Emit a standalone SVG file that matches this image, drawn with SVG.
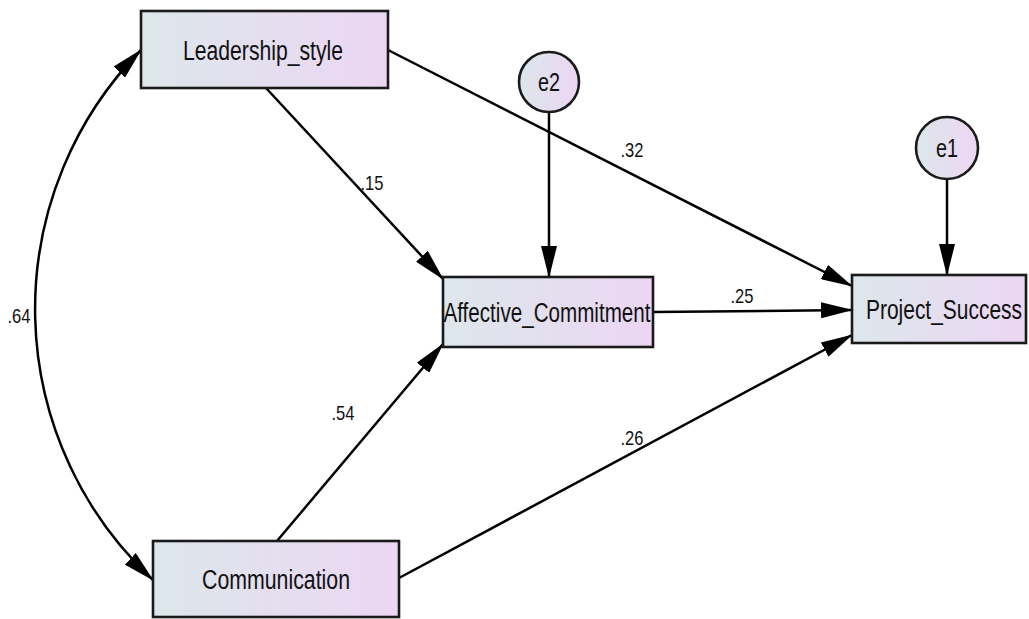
<svg xmlns="http://www.w3.org/2000/svg" width="1029" height="619" viewBox="0 0 1029 619">
  <defs>
    <linearGradient id="fill" x1="0" y1="0" x2="1" y2="0">
      <stop offset="0" stop-color="#dde7eb"/>
      <stop offset="1" stop-color="#ecd6f3"/>
    </linearGradient>
    <marker id="head" viewBox="0 0 32 16" markerUnits="userSpaceOnUse" markerWidth="32" markerHeight="16" refX="31" refY="8" orient="auto-start-reverse">
      <path d="M0,0 L32,8 L0,16 z" fill="#000"/>
    </marker>
    <style>
      .box { fill: url(#fill); stroke: #1a1a1a; stroke-width: 2.6; }
      .lbl { font-family: "Liberation Sans", Arial, sans-serif; font-size: 27px; fill: #111; text-anchor: middle; }
      .err { font-family: "Liberation Sans", Arial, sans-serif; font-size: 26px; fill: #111; text-anchor: middle; }
      .coef { font-family: "Liberation Sans", Arial, sans-serif; font-size: 21px; fill: #111; text-anchor: middle; }
      .edge { fill: none; stroke: #000; stroke-width: 2.5; marker-end: url(#head); }
    </style>
  </defs>
  <rect width="1029" height="619" fill="#fff"/>

  <!-- paths and the covariance arc -->
  <g id="connectors">
    <path class="edge" d="M141,50 A370,370 0 0,0 153,580" marker-start="url(#head)"/>
    <line class="edge" x1="266" y1="88" x2="443" y2="279"/>
    <line class="edge" x1="277" y1="541" x2="443" y2="344"/>
    <line class="edge" x1="388" y1="50" x2="852" y2="286"/>
    <line class="edge" x1="653" y1="312" x2="852" y2="310"/>
    <line class="edge" x1="399" y1="578" x2="852" y2="335"/>
    <line class="edge" x1="549" y1="112" x2="549" y2="277"/>
    <line class="edge" x1="947" y1="179" x2="947" y2="275"/>
  </g>

  <g id="coefficients">
    <text class="coef" x="19" y="323" textLength="23" lengthAdjust="spacingAndGlyphs">.64</text>
    <text class="coef" x="372" y="190" textLength="23" lengthAdjust="spacingAndGlyphs">.15</text>
    <text class="coef" x="632" y="157" textLength="23" lengthAdjust="spacingAndGlyphs">.32</text>
    <text class="coef" x="742" y="303" textLength="23" lengthAdjust="spacingAndGlyphs">.25</text>
    <text class="coef" x="343" y="420" textLength="23" lengthAdjust="spacingAndGlyphs">.54</text>
    <text class="coef" x="632" y="445" textLength="23" lengthAdjust="spacingAndGlyphs">.26</text>
  </g>

  <g id="leadership_style">
    <rect class="box" x="141" y="11" width="247" height="77"/>
    <text class="lbl" x="263" y="60" textLength="160" lengthAdjust="spacingAndGlyphs">Leadership_style</text>
  </g>

  <g id="communication">
    <rect class="box" x="153" y="541" width="246" height="76"/>
    <text class="lbl" x="276" y="589" textLength="148" lengthAdjust="spacingAndGlyphs">Communication</text>
  </g>

  <g id="affective_commitment">
    <rect class="box" x="443" y="277" width="210" height="70"/>
    <text class="lbl" x="547" y="322" textLength="207" lengthAdjust="spacingAndGlyphs">Affective_Commitment</text>
  </g>

  <g id="project_success">
    <rect class="box" x="852" y="275" width="174" height="68"/>
    <text class="lbl" x="944" y="319" textLength="156" lengthAdjust="spacingAndGlyphs">Project_Success</text>
  </g>

  <g id="e2">
    <circle class="box" cx="549" cy="82" r="30"/>
    <text class="err" x="549" y="91" textLength="22" lengthAdjust="spacingAndGlyphs">e2</text>
  </g>

  <g id="e1">
    <circle class="box" cx="947" cy="148" r="31"/>
    <text class="err" x="947" y="157" textLength="22" lengthAdjust="spacingAndGlyphs">e1</text>
  </g>
</svg>
